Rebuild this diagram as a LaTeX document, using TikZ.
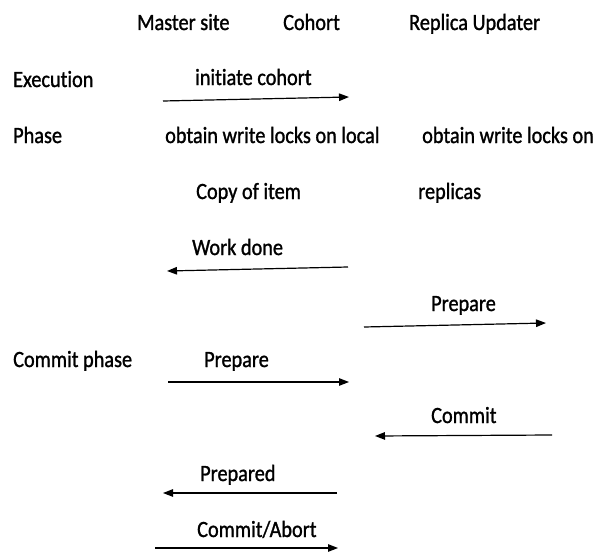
\documentclass[tikz,border=0pt]{standalone}
\usepackage{fontspec}
\setmainfont[FakeStretch=0.87,FakeBold=1.2,Ligatures=NoCommon]{Carlito}
\usetikzlibrary{arrows.meta}
\begin{document}
\begin{tikzpicture}[x=1pt,y=-1pt,
  lbl/.style={anchor=base west,inner sep=0pt,font=\fontsize{23.3}{28}\selectfont},
  msg/.style={line width=1.2pt,-{Triangle[length=10pt,width=7.5pt]}}]
\useasboundingbox (0,0) rectangle (595,554);
\node[lbl] (master) at (137,30) {Master site};
\node[lbl] (cohort) at (283,30) {Cohort};
\node[lbl] (ru) at (409,30) {Replica Updater};
\node[lbl] (exec) at (13,87) {Execution};
\node[lbl] (init) at (195,85) {initiate cohort};
\node[lbl] (phase) at (13,143) {Phase};
\node[lbl] (owl1) at (165,143) {obtain write locks on local};
\node[lbl] (owl2) at (422,143) {obtain write locks on};
\node[lbl] (copy) at (196,199) {Copy of item};
\node[lbl] (repl) at (418,199) {replicas};
\node[lbl] (wd) at (192,255) {Work done};
\node[lbl] (prep2) at (431,311) {Prepare};
\node[lbl] (cp) at (13,367) {Commit phase};
\node[lbl] (prep1) at (204,367) {Prepare};
\node[lbl] (commit) at (431,423) {Commit};
\node[lbl] (prepd) at (200,481) {Prepared};
\node[lbl] (ca) at (197,537) {Commit/Abort};
\coordinate (a1s) at (163,101); \coordinate (a1e) at (349,97);
\coordinate (a2s) at (348,267); \coordinate (a2e) at (167,271);
\coordinate (a3s) at (364,327); \coordinate (a3e) at (546,323);
\coordinate (a4s) at (168,382); \coordinate (a4e) at (349,382);
\coordinate (a5s) at (552,435); \coordinate (a5e) at (375,436);
\coordinate (a6s) at (337,493); \coordinate (a6e) at (163,493);
\coordinate (a7s) at (155,548); \coordinate (a7e) at (338,548);
\draw[msg] (a1s) -- (a1e);
\draw[msg] (a2s) -- (a2e);
\draw[msg] (a3s) -- (a3e);
\draw[msg] (a4s) -- (a4e);
\draw[msg] (a5s) -- (a5e);
\draw[msg] (a6s) -- (a6e);
\draw[msg] (a7s) -- (a7e);
\end{tikzpicture}
\end{document}
